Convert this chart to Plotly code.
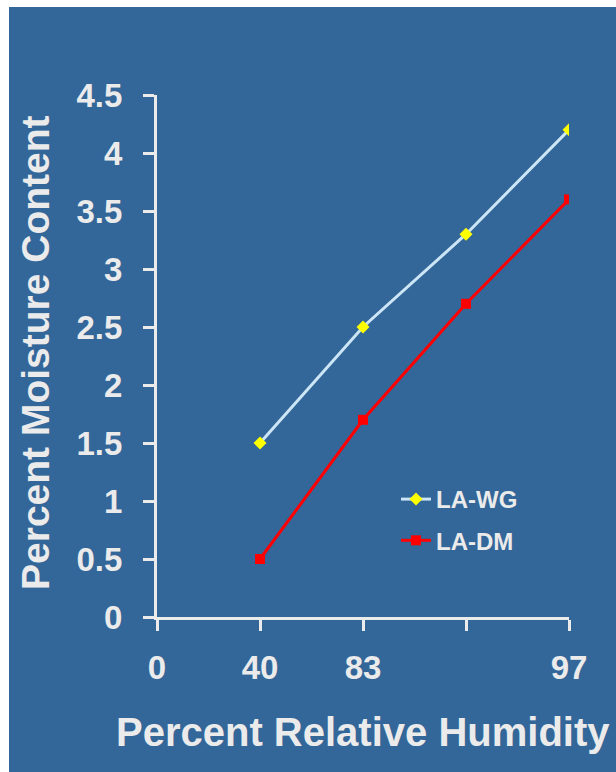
import plotly.graph_objects as go

# Data
x_tick_vals = [0, 1, 2, 3, 4]
x_tick_labels = ["0", "40", "83", "", "97"]
x_positions = [1, 2, 3, 4]
la_wg = [1.5, 2.5, 3.3, 4.2]
la_dm = [0.5, 1.7, 2.7, 3.6]
y_ticks = [0, 0.5, 1, 1.5, 2, 2.5, 3, 3.5, 4, 4.5]

BG = "#336699"
TXT = "#ebebeb"
FONT = "Liberation Sans, Arial, sans-serif"

fig = go.Figure()
fig.add_trace(go.Scatter(
    x=x_positions, y=la_wg, name="LA-WG", mode="lines+markers",
    line=dict(color="#cce6f6", width=3),
    marker=dict(symbol="diamond", color="#ffff00", size=10),
    legendgroup="a",
))
fig.add_trace(go.Scatter(
    x=x_positions, y=la_dm, name="LA-DM", mode="lines+markers",
    line=dict(color="#ff0000", width=3),
    marker=dict(symbol="square", color="#ff0000", size=10),
    legendgroup="b",
))

# blue panel (white strip left & top)
fig.add_shape(type="rect", xref="paper", yref="paper",
              x0=(9 - 157) / 412, x1=2, y0=-1, y1=(617 - 7) / 522,
              fillcolor=BG, line=dict(width=0), layer="below")

fig.update_layout(
    width=616, height=772,
    margin=dict(l=157, r=47, t=95, b=155),
    paper_bgcolor="white", plot_bgcolor=BG,
    font=dict(family=FONT, color=TXT),
    showlegend=True,
    legend=dict(x=(396 - 157) / 412, y=(617 - 477) / 522, xanchor="left", yanchor="top",
                bgcolor="rgba(0,0,0,0)", font=dict(size=24, color=TXT, family=FONT),
                tracegroupgap=7, itemwidth=30),
    xaxis=dict(range=[0, 4], tickvals=x_tick_vals, ticktext=x_tick_labels,
               showgrid=False, zeroline=False, showline=True, linecolor=TXT, linewidth=3,
               ticks="outside", ticklen=11, tickwidth=3, tickcolor=TXT,
               tickfont=dict(size=33, color=TXT, family=FONT), ticklabelstandoff=8),
    yaxis=dict(range=[0, 4.5], tickvals=y_ticks,
               showgrid=False, zeroline=False, showline=True, linecolor=TXT, linewidth=3,
               ticks="outside", ticklen=11, tickwidth=3, tickcolor=TXT,
               tickfont=dict(size=33, color=TXT, family=FONT), ticklabelstandoff=14),
    annotations=[
        dict(text="<b>Percent Relative Humidity</b>", xref="paper", yref="paper",
             x=0.5, y=(617 - 732) / 522, xanchor="center", yanchor="middle",
             showarrow=False, font=dict(size=40, color=TXT, family=FONT)),
        dict(text="<b>Percent Moisture Content</b>", xref="paper", yref="paper",
             x=(35 - 157) / 412, y=(617 - 353) / 522, xanchor="center", yanchor="middle",
             textangle=-90, showarrow=False, font=dict(size=39, color=TXT, family=FONT)),
    ],
)
fig.update_xaxes(tickfont_weight="bold")
fig.update_yaxes(tickfont_weight="bold")
fig.update_layout(legend_font_weight="bold")

fig.write_html("out.html")
